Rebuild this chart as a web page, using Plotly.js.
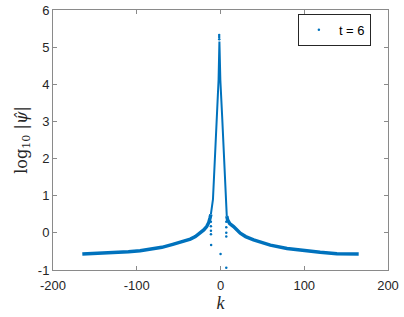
<!DOCTYPE html>
<html>
<head>
<meta charset="utf-8">
<script src="https://cdn.plot.ly/plotly-3.0.1.min.js"></script>
<style>html,body{margin:0;padding:0;background:#fff;}#chart{width:404px;height:317px;}</style>
</head>
<body>
<div id="chart"></div>
<script>
// Left tail of the spectrum
const kLeftTail = [-165,-150,-130,-110,-96,-80,-70,-57,-45,-36,-30,-24.5,-20,-16.5,-14,-12.5,-11.5];
const vLeftTail = [-0.57,-0.56,-0.54,-0.51,-0.48,-0.43,-0.39,-0.31,-0.24,-0.17,-0.10,-0.01,0.08,0.17,0.28,0.40,0.50];
// Central peak
const kPeak = [-11.5,-9,-6,-4,-2.3,-1.3,-0.2,2,4,6.9,7.5];
const vPeak = [0.50,0.90,2.34,3.30,4.12,5.15,4.12,3.12,2.20,0.88,0.45];
// Right tail
const kRightTail = [7.5,8.5,11,15.6,23.6,30,39.5,50,59.5,79.4,99,119,139,165];
const vRightTail = [0.45,0.35,0.25,0.17,-0.01,-0.10,-0.19,-0.27,-0.33,-0.42,-0.48,-0.52,-0.56,-0.57];
// Isolated points
const kDots = [-1.6,-1.6,-1.5,-11.5,-11.5,-11.4,-11.4,-11.2,0.1,6.9,6.9,6.9,6.9,6.9];
const vDots = [5.33,5.27,5.21,0.30,0.18,0.06,-0.04,-0.33,-0.57,0.30,0.15,0.0,-0.10,-0.94];

const col = '#0072BD';
const axCol = '#8a8a8a';
const txtCol = '#262626';

const traces = [
  {x:kLeftTail, y:vLeftTail, mode:'lines', line:{color:col,width:3.5}, showlegend:false, hoverinfo:'skip'},
  {x:kRightTail, y:vRightTail, mode:'lines', line:{color:col,width:3.5}, showlegend:false, hoverinfo:'skip'},
  {x:kPeak, y:vPeak, mode:'lines', line:{color:col,width:2}, showlegend:false, hoverinfo:'skip'},
  {x:kDots, y:vDots, mode:'markers', name:'t = 6', marker:{color:col,size:2.5}}
];

const axisBase = {
  showline:true, mirror:'ticks', linecolor:axCol, linewidth:1,
  ticks:'inside', ticklen:4, tickcolor:axCol, tickwidth:1,
  showgrid:false, zeroline:false,
  tickfont:{family:'Liberation Sans, Arial, sans-serif', size:13, color:txtCol}
};

const layout = {
  width:404, height:317,
  margin:{l:53, r:16, t:10, b:47},
  paper_bgcolor:'#fff', plot_bgcolor:'#fff',
  xaxis:Object.assign({}, axisBase, {
    range:[-200,200], tickvals:[-200,-100,0,100,200], ticktext:['-200','-100','0','100','200'],
    ticklabelstandoff:3,
    title:{text:'<i>k</i>', font:{family:'Liberation Serif, Times New Roman, serif', size:18, color:txtCol}, standoff:0}
  }),
  yaxis:Object.assign({}, axisBase, {
    range:[-1,6], tickvals:[-1,0,1,2,3,4,5,6], ticktext:['-1','0','1','2','3','4','5','6'],
    title:{text:'log<sub>10</sub> |<i>ψ̂</i>|', font:{family:'DejaVu Serif, serif', size:16, color:txtCol}, standoff:6}
  }),
  legend:{
    x:0.731, y:0.985, xanchor:'left', yanchor:'top',
    bgcolor:'#fff', bordercolor:txtCol, borderwidth:1,
    tracegroupgap:0, itemwidth:30,
    font:{family:'Liberation Sans, Arial, sans-serif', size:13, color:'#000'}
  },
  showlegend:true
};

Plotly.newPlot('chart', traces, layout, {staticPlot:true, displayModeBar:false});
</script>
</body>
</html>
